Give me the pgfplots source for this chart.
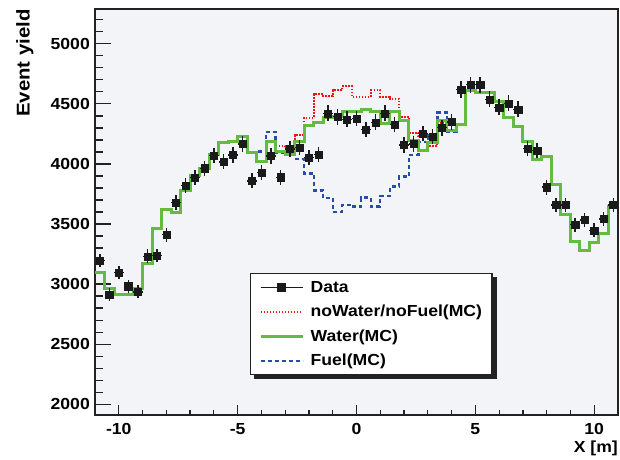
\documentclass[border=0pt]{standalone}
\usepackage{fontspec}
\setmainfont{Liberation Sans}[FakeStretch=1.1]
\usepackage{pgfplots}
\usepackage{pgfplotstable}
\pgfplotsset{compat=1.18}

\definecolor{bgcol}{RGB}{243,244,247}
\definecolor{framecol}{RGB}{34,34,34}
\definecolor{datacol}{RGB}{26,26,26}
\definecolor{watercol}{RGB}{100,187,66}
\definecolor{nowatercol}{RGB}{245,20,20}
\definecolor{fuelcol}{RGB}{38,78,168}

\newcommand\tickfont{\bfseries\fontsize{16}{16}\selectfont}
\newcommand\lstrut{\rule[-2pt]{0pt}{13.5pt}}
% invisible box that fixes the size of a legend image
\newcommand\imgbox{\pgfpathrectangle{\pgfpoint{0pt}{-7.75pt}}{\pgfpoint{50pt}{15.5pt}}%
  \pgfusepath{use as bounding box}}

\pgfplotsset{
  lineimg/.style={legend image code/.code={\imgbox
    \draw[##1] (0pt,0pt) -- (42pt,0pt);}},
  dataimg/.style={legend image code/.code={\imgbox
    \draw[##1] (0pt,0pt) -- (42pt,0pt);
    \fill[datacol] (17.4pt,-3.6pt) rectangle (24.6pt,3.6pt);}},
}

% data: bin centre, counts, stat. error
\pgfplotstableread{
x y ey
-10.8 3197 57
-10.4 2913 54
-10.0 3098 56
-9.6 2982 55
-9.2 2935 54
-8.8 3231 57
-8.4 3237 57
-8.0 3411 58
-7.6 3679 61
-7.2 3820 62
-6.8 3886 62
-6.4 3964 63
-6.0 4072 64
-5.6 4017 63
-5.2 4075 64
-4.8 4166 65
-4.4 3859 62
-4.0 3928 63
-3.6 4066 64
-3.2 3889 62
-2.8 4124 64
-2.4 4138 64
-2.0 4055 64
-1.6 4080 64
-1.2 4421 66
-0.8 4393 66
-0.4 4371 66
0.0 4379 66
0.4 4288 65
0.8 4346 66
1.2 4421 66
1.6 4329 66
2.0 4158 64
2.4 4166 65
2.8 4255 65
3.2 4227 65
3.6 4302 66
4.0 4351 66
4.4 4620 68
4.8 4660 68
5.2 4660 68
5.6 4537 67
6.0 4471 67
6.4 4504 67
6.8 4454 67
7.2 4130 64
7.6 4110 64
8.0 3807 62
8.4 3660 60
8.8 3660 60
9.2 3494 59
9.6 3535 59
10.0 3447 59
10.4 3541 60
10.8 3660 60
}\datatab

% MC histograms: left bin edge, water, noWater/noFuel, fuel
\pgfplotstableread{
x water nowater fuel
-11.0 3093 3093 3093
-10.6 2963 2963 2963
-10.2 2913 2913 2913
-9.8 2913 2913 2913
-9.4 2960 2960 2960
-9.0 3170 3170 3170
-8.6 3466 3466 3466
-8.2 3618 3618 3618
-7.8 3596 3596 3596
-7.4 3779 3779 3779
-7.0 3900 3900 3900
-6.6 3964 3964 3964
-6.2 4075 4075 4075
-5.8 4177 4177 4177
-5.4 4191 4191 4191
-5.0 4227 4227 4227
-4.6 4098 4098 4098
-4.2 4022 4022 4105
-3.8 4185 4185 4268
-3.4 4105 4149 4095
-3.0 4075 4130 4075
-2.6 4185 4240 4039
-2.2 4318 4384 3920
-1.8 4345 4581 3780
-1.4 4386 4564 3715
-1.0 4393 4612 3600
-0.6 4434 4647 3660
-0.2 4440 4560 3646
0.2 4454 4560 3720
0.6 4434 4612 3646
1.0 4338 4560 3734
1.4 4434 4539 3812
1.8 4360 4393 3895
2.2 4193 4258 4075
2.6 4108 4230 4185
3.0 4177 4152 4240
3.4 4365 4340 4427
3.8 4276 4276 4268
4.2 4332 4332 4332
4.6 4612 4612 4612
5.0 4595 4595 4595
5.4 4592 4592 4592
5.8 4517 4517 4517
6.2 4384 4384 4384
6.6 4315 4315 4315
7.0 4185 4185 4185
7.4 4039 4039 4039
7.8 4061 4061 4061
8.2 3831 3831 3831
8.6 3577 3577 3577
9.0 3355 3355 3355
9.4 3278 3278 3278
9.8 3347 3347 3347
10.2 3425 3425 3425
10.6 3646 3646 3646
11.0 3646 3646 3646
}\mctab

\begin{document}
\begin{tikzpicture}
\useasboundingbox (0,0) rectangle (620pt,459pt);
\begin{axis}[
  at={(95pt,44pt)}, anchor=south west,
  width=523pt, height=406pt, scale only axis,
  xmin=-11, xmax=11, ymin=1910, ymax=5290,
  axis background/.style={fill=bgcol},
  axis line style={line width=1.3pt, draw=framecol},
  tick align=inside,
  xtick pos=bottom, ytick pos=left,
  xtick={-10,-5,0,5,10}, xticklabels={-10,-5,0,5,10},
  minor xtick={-10,...,10},
  ytick={2000,2500,...,5000},
  yticklabels={2000,2500,3000,3500,4000,4500,5000},
  minor ytick={2000,2100,...,5200},
  major tick length=10pt, minor tick length=5pt,
  ytick style={/pgfplots/major tick length=16pt, /pgfplots/minor tick length=8pt},
  every tick/.style={framecol, line width=1.2pt},
  ticklabel style={font=\tickfont},
  xticklabel style={anchor=base, inner sep=0pt, yshift=-19.7pt},
  yticklabel style={anchor=east, inner sep=0pt, xshift=-5pt},
  xlabel={X [m]}, ylabel={Event yield},
  every axis x label/.style={at={(axis description cs:1,0)}, anchor=base east,
    inner sep=0pt, yshift=-37.5pt, font=\tickfont},
  every axis y label/.style={at={(axis description cs:-0.136,1)}, rotate=90,
    anchor=east, inner sep=0pt, yshift=-1pt, font=\bfseries\fontsize{18.5}{18.5}\selectfont},
  legend style={name=leg, at={(axis description cs:0.2964,0.3498)}, anchor=north west,
    draw=framecol, line width=1.2pt, fill=white,
    inner xsep=10pt, inner ysep=6pt, row sep=9pt,
    cells={anchor=west}, nodes={inner sep=0pt},
    font=\tickfont},
]

\addplot[const plot, nowatercol, line width=2pt, dash pattern=on 1.5pt off 1.5pt, forget plot]
  table[x=x, y=nowater]{\mctab};
\addplot[const plot, fuelcol, line width=2.4pt, dash pattern=on 4pt off 3pt, forget plot]
  table[x=x, y=fuel]{\mctab};
\addplot[const plot, watercol, line width=3pt, forget plot]
  table[x=x, y=water]{\mctab};
\addplot[only marks, mark=square*, mark size=3.6pt, datacol, forget plot,
  error bars/.cd, x dir=both, x fixed=0.2, y dir=both, y explicit,
  error mark=none, error bar style={line width=1.5pt, datacol}]
  table[x=x, y=y, y error=ey]{\datatab};

\addlegendimage{datacol, line width=1.2pt, dataimg}
\addlegendentry{\lstrut Data}
\addlegendimage{nowatercol, line width=2pt, dash pattern=on 1.5pt off 1.5pt, lineimg}
\addlegendentry{\lstrut noWater/noFuel(MC)}
\addlegendimage{watercol, line width=3pt, lineimg}
\addlegendentry{\lstrut Water(MC)}
\addlegendimage{fuelcol, line width=2.4pt, dash pattern=on 4pt off 3pt, lineimg}
\addlegendentry{\lstrut Fuel(MC)}
\end{axis}
% box shadow of the legend, bottom and right strips
\fill[framecol] ([xshift=4pt]leg.south west) rectangle ([xshift=4pt,yshift=-4pt]leg.south east);
\fill[framecol] ([yshift=-4pt]leg.north east) rectangle ([xshift=4pt]leg.south east);
\end{tikzpicture}
\end{document}
